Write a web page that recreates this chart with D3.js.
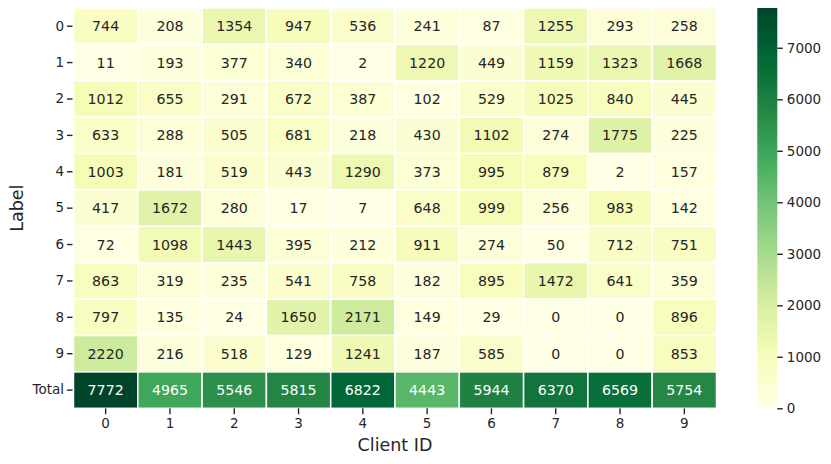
<!DOCTYPE html>
<html><head><meta charset="utf-8">
<script src="https://cdn.jsdelivr.net/npm/d3@7"></script>
<style>body{margin:0;background:#fff}svg{display:block}text{font-family:"DejaVu Sans",sans-serif}</style>
</head><body>
<script>
const clients = ["0","1","2","3","4","5","6","7","8","9"];
const rowLabels = ["0","1","2","3","4","5","6","7","8","9","Total"];
const row0 = [744,208,1354,947,536,241,87,1255,293,258];
const row1 = [11,193,377,340,2,1220,449,1159,1323,1668];
const row2 = [1012,655,291,672,387,102,529,1025,840,445];
const row3 = [633,288,505,681,218,430,1102,274,1775,225];
const row4 = [1003,181,519,443,1290,373,995,879,2,157];
const row5 = [417,1672,280,17,7,648,999,256,983,142];
const row6 = [72,1098,1443,395,212,911,274,50,712,751];
const row7 = [863,319,235,541,758,182,895,1472,641,359];
const row8 = [797,135,24,1650,2171,149,29,0,0,896];
const row9 = [2220,216,518,129,1241,187,585,0,0,853];
const totals = [7772,4965,5546,5815,6822,4443,5944,6370,6569,5754];
const cbTicks = [0,1000,2000,3000,4000,5000,6000,7000];

const rows = [row0,row1,row2,row3,row4,row5,row6,row7,row8,row9,totals];
const cells = [];
rows.forEach((r,i)=>r.forEach((v,j)=>cells.push({row:rowLabels[i],col:clients[j],v})));
const vmax = d3.max(totals);

const W=831,H=464;
const svg=d3.select("body").append("svg").attr("width",W).attr("height",H);
const L=73.5,R=716.5,T=8,B=408.3;
const x=d3.scaleBand().domain(clients).range([L,R]);
const y=d3.scaleBand().domain(rowLabels).range([T,B]);
const ylgn=["#ffffe5","#f7fcb9","#d9f0a3","#addd8e","#78c679","#41ab5d","#238443","#006837","#004529"];
const color=d3.scaleLinear().domain(ylgn.map((_,i)=>i/(ylgn.length-1)*vmax)).range(ylgn).clamp(true);

svg.append("g").selectAll("rect").data(cells).join("rect")
 .attr("x",d=>x(d.col)).attr("y",d=>y(d.row))
 .attr("width",x.bandwidth()).attr("height",y.bandwidth())
 .attr("fill",d=>color(d.v)).attr("stroke","#fff").attr("stroke-width",1.5);

function lum(c){const r=d3.rgb(c);const f=v=>{v/=255;return v<=0.03928?v/12.92:Math.pow((v+0.055)/1.055,2.4)};return 0.2126*f(r.r)+0.7152*f(r.g)+0.0722*f(r.b);}
svg.append("g").selectAll("text").data(cells).join("text")
 .attr("x",d=>x(d.col)+x.bandwidth()/2).attr("y",d=>y(d.row)+y.bandwidth()/2)
 .attr("text-anchor","middle").attr("dominant-baseline","central")
 .style("font-size","14.2px").attr("fill",d=>lum(color(d.v))>0.408?"#262626":"#fff")
 .text(d=>d.v);

const axColor="#262626";
const yAxis=svg.append("g").attr("transform",`translate(${L-1},0)`).call(d3.axisLeft(y).tickSize(5.5).tickPadding(3));
const xAxis=svg.append("g").attr("transform",`translate(0,${B})`).call(d3.axisBottom(x).tickSize(6).tickPadding(4));
[xAxis,yAxis].forEach(a=>{a.select(".domain").remove();a.selectAll("line").attr("stroke",axColor).attr("stroke-width",1.4);a.selectAll("text").style("font-size","13.5px").attr("fill",axColor).style("font-family","DejaVu Sans");});

svg.append("text").attr("x",(L+R)/2).attr("y",451).attr("text-anchor","middle").style("font-size","17.5px").attr("fill",axColor).text("Client ID");
svg.append("text").attr("transform",`translate(23,${(T+B)/2}) rotate(-90)`).attr("text-anchor","middle").style("font-size","17.5px").attr("fill",axColor).text("Label");

// colorbar
const cbX=757.3,cbW=20;
const cy=d3.scaleLinear().domain([0,vmax]).range([B,T]);
const defs=svg.append("defs");
const grad=defs.append("linearGradient").attr("id","cbg").attr("x1",0).attr("y1",1).attr("x2",0).attr("y2",0);
d3.range(0,1.0001,0.02).forEach(t=>grad.append("stop").attr("offset",t).attr("stop-color",color(t*vmax)));
svg.append("rect").attr("x",cbX).attr("y",T).attr("width",cbW).attr("height",B-T).attr("fill","url(#cbg)");
const cAxis=svg.append("g").attr("transform",`translate(${cbX+cbW},0)`).call(d3.axisRight(cy).tickValues(cbTicks).tickSize(5.5).tickPadding(4).tickFormat(d3.format("d")));
cAxis.select(".domain").remove();
cAxis.selectAll("line").attr("stroke",axColor).attr("stroke-width",1.4);
cAxis.selectAll("text").style("font-size","13.5px").attr("fill",axColor).style("font-family","DejaVu Sans");
</script>
</body></html>
